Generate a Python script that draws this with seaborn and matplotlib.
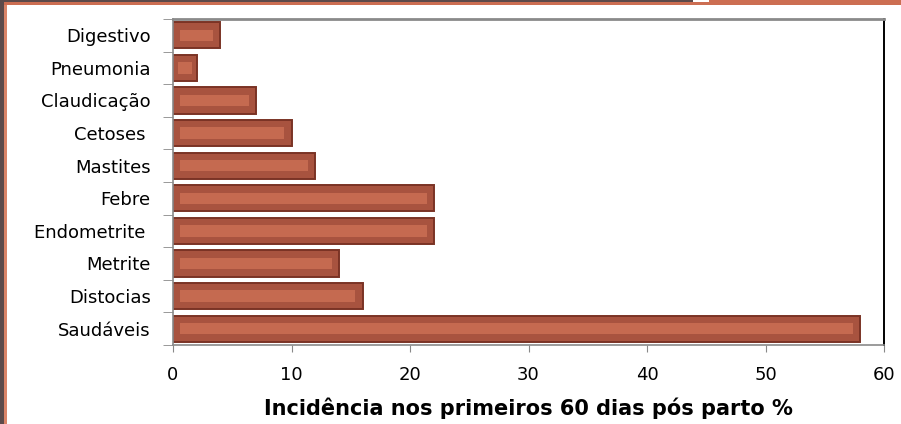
import matplotlib
matplotlib.use("Agg")
import matplotlib.pyplot as plt
import seaborn as sns
import pandas as pd
from matplotlib.patches import Rectangle

categories = ["Digestivo", "Pneumonia", "Claudicação", "Cetoses ", "Mastites",
              "Febre", "Endometrite ", "Metrite", "Distocias", "Saudáveis"]
values = [4, 2, 7, 10, 12, 22, 22, 14, 16, 58]
x_ticks = [0, 10, 20, 30, 40, 50, 60]
x_label = "Incidência nos primeiros 60 dias pós parto %"

df = pd.DataFrame({"categoria": categories, "valor": values})

sns.set_style("white")
plt.rcParams["font.family"] = ["DejaVu Sans"]
plt.rcParams["text.color"] = "black"
plt.rcParams["xtick.labelcolor"] = "black"
plt.rcParams["ytick.labelcolor"] = "black"
plt.rcParams["axes.labelcolor"] = "black"

fig = plt.figure(figsize=(9.01, 4.24), dpi=100)
ax = fig.add_axes([173/901, 1 - 345/424, (884 - 173)/901, (345 - 19)/424])

sns.barplot(data=df, y="categoria", x="valor", orient="h", order=categories,
            color="#A8533F", edgecolor="#7A3325", linewidth=1.4, width=0.8,
            saturation=1, ax=ax)

# inner highlight on each bar, derived from the drawn bars
for p in list(ax.patches):
    x0, y0 = p.get_x(), p.get_y()
    w, h = p.get_width(), p.get_height()
    inset = min(0.6, w * 0.2)
    ax.add_patch(Rectangle((x0 + inset, y0 + h * 0.28), w - 2 * inset, h * 0.44,
                           facecolor="#C56A50", edgecolor="none", zorder=p.get_zorder() + 0.1))

ax.set_xlim(0, 60)
ax.set_ylim(len(categories) - 0.5, -0.5)
ax.set_xticks(x_ticks)
ax.set_xticklabels([str(t) for t in x_ticks], fontsize=13)
ax.tick_params(axis="x", length=5, color="#888888", direction="out", pad=10, bottom=True)

ax.set_yticks(range(len(categories)))
ax.set_yticklabels(categories, fontsize=13)
ax.tick_params(axis="y", which="major", length=0, pad=16)
ax.set_yticks([i - 0.5 for i in range(len(categories) + 1)], minor=True)
ax.tick_params(axis="y", which="minor", length=7, color="#888888", direction="out", left=True)

ax.set_ylabel("")
ax.set_xlabel(x_label, fontsize=15, fontweight="bold", labelpad=10)

for side in ["left", "bottom", "top"]:
    ax.spines[side].set_color("#8a8a8a")
    ax.spines[side].set_linewidth(1.2)
ax.spines["right"].set_color("black")
ax.spines["right"].set_linewidth(1.4)
ax.spines["top"].set_linewidth(2)

# decorative slide frame
fig.patches.append(Rectangle((0, 0), 4/901, 1, transform=fig.transFigure,
                             facecolor="#5C4A4A", edgecolor="none", zorder=0))
fig.patches.append(Rectangle((4/901, 0), 3/901, 1 - 2/424, transform=fig.transFigure,
                             facecolor="#DA8468", edgecolor="none", zorder=0))
fig.patches.append(Rectangle((0, 1 - 2/424), 693/901, 2/424, transform=fig.transFigure,
                             facecolor="#5C4A4A", edgecolor="none", zorder=0))
fig.patches.append(Rectangle((4/901, 1 - 5/424), 1 - 4/901, 3/424, transform=fig.transFigure,
                             facecolor="#CC6E52", edgecolor="none", zorder=0))
fig.patches.append(Rectangle((709/901, 1 - 2/424), 1 - 709/901, 2/424, transform=fig.transFigure,
                             facecolor="#CC6E52", edgecolor="none", zorder=0))

fig.savefig("out.png", dpi=100)
